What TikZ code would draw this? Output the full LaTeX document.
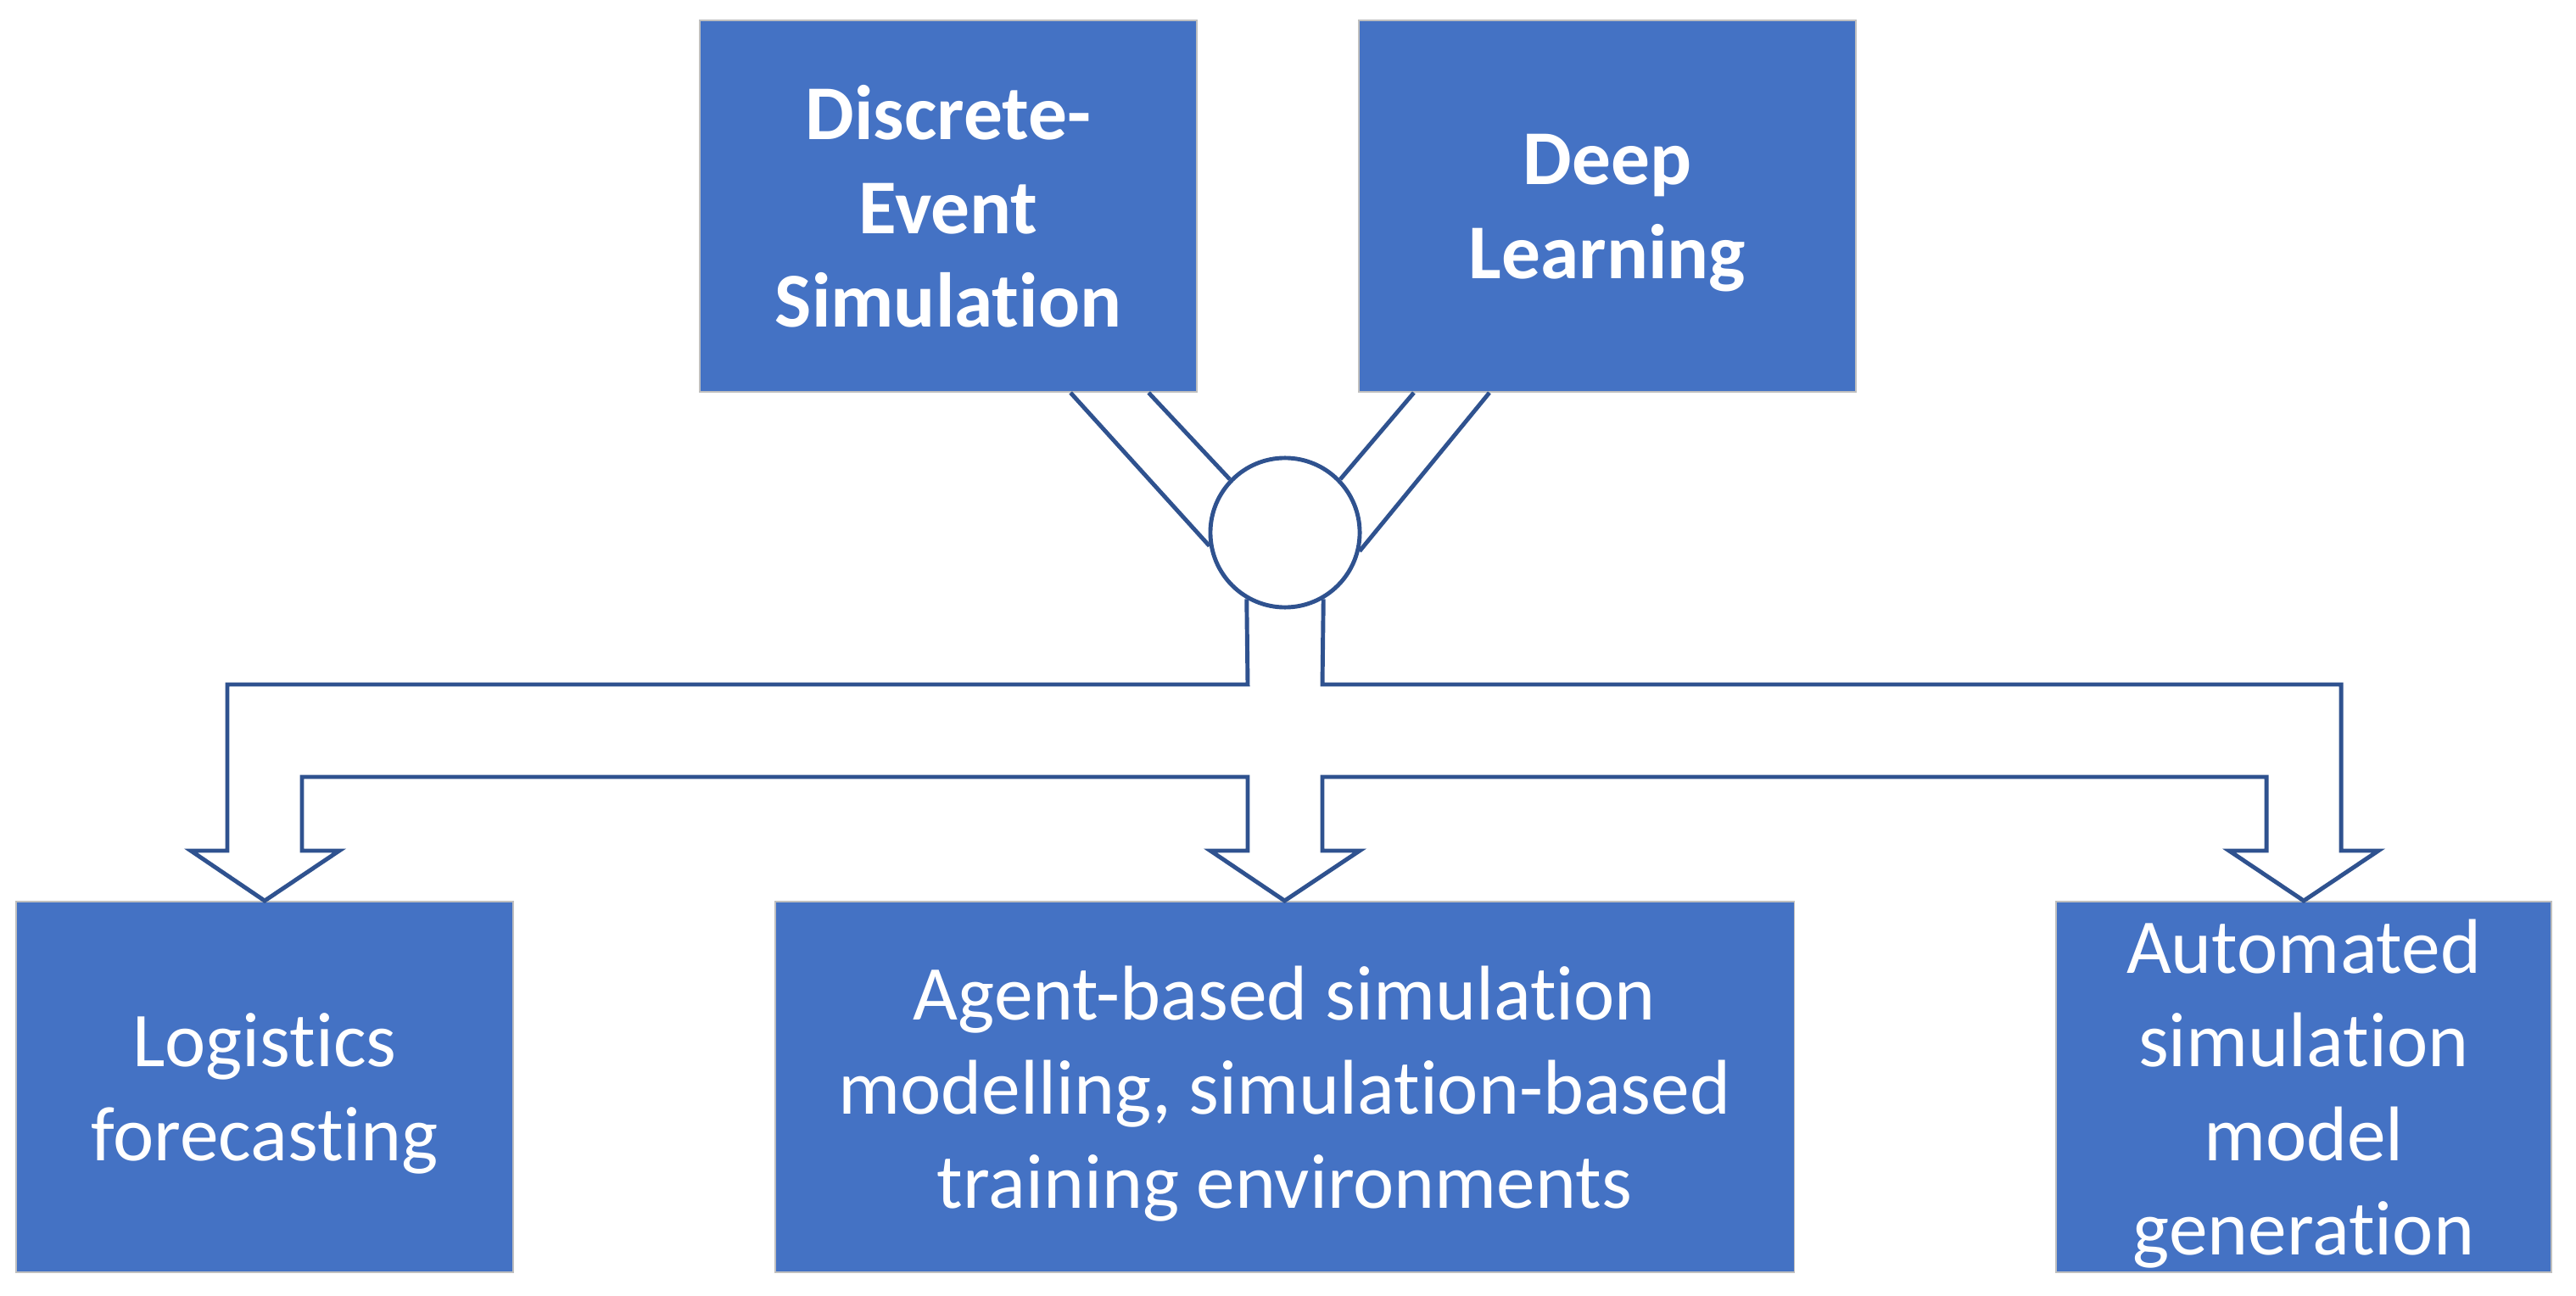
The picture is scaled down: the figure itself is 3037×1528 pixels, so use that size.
\documentclass[tikz,border=0pt]{standalone}
\usepackage{fontspec}
\setmainfont{Carlito}[Ligatures=NoCommon]
\definecolor{boxblue}{HTML}{4472C4}
\definecolor{lineblue}{HTML}{2F528F}
\begin{document}
\begin{tikzpicture}[x=0.01cm,y=-0.01cm,
  topbox/.style={rectangle,fill=boxblue,draw=black!25,line width=0.5pt,text=white,
    minimum width=5.86cm,minimum height=4.38cm,align=center,text depth=0pt,
    font=\fontsize{26}{31.5}\selectfont\bfseries},
  botbox/.style={rectangle,fill=boxblue,draw=black!25,line width=0.5pt,text=white,
    minimum height=4.37cm,align=center,text depth=0pt,font=\fontsize{26}{31.5}\selectfont},
  hub/.style={circle,draw=lineblue,line width=1.4pt,minimum size=1.76cm,inner sep=0pt},
  conn/.style={draw=lineblue,line width=1.4pt,line join=miter}]
\useasboundingbox (0,0) rectangle (3037,1528);
\node[topbox] (des) at (1118,243) {Discrete-\\Event\\Simulation};
\node[topbox] (dl) at (1895,243) {Deep\\Learning};
\node[hub] (join) at (1515,628) {};
\node[botbox,minimum width=5.86cm] (lf) at (312,1281.5) {Logistics\\forecasting};
\node[botbox,minimum width=12.01cm] (abm) at (1514.5,1281.5) {Agent-based simulation\\modelling, simulation-based\\training environments};
\node[botbox,minimum width=5.84cm] (asm) at (2716,1281.5) {Automated\\simulation\\model\\generation};
\draw[conn] ([xshift=1.44cm]des.south) -- (join.190);
\draw[conn] ([xshift=2.36cm]des.south) -- (join.136);
\draw[conn] ([xshift=-2.28cm]dl.south) -- (join.44);
\draw[conn] ([xshift=-1.39cm]dl.south) -- (join.-14);
\draw[conn] (join.240) -- (1471,807) -- (268,807) -- (268,1003) -- (225,1003) -- (lf.north)
  -- (400,1003) -- (356,1003) -- (356,916) -- (1471,916) -- (1471,1003) -- (1427,1003)
  -- (abm.north) -- (1603,1003) -- (1559,1003) -- (1559,916) -- (2672,916) -- (2672,1003)
  -- (2628,1003) -- (asm.north) -- (2804,1003) -- (2760,1003) -- (2760,807) -- (1559,807)
  -- (join.300);
\end{tikzpicture}
\end{document}
